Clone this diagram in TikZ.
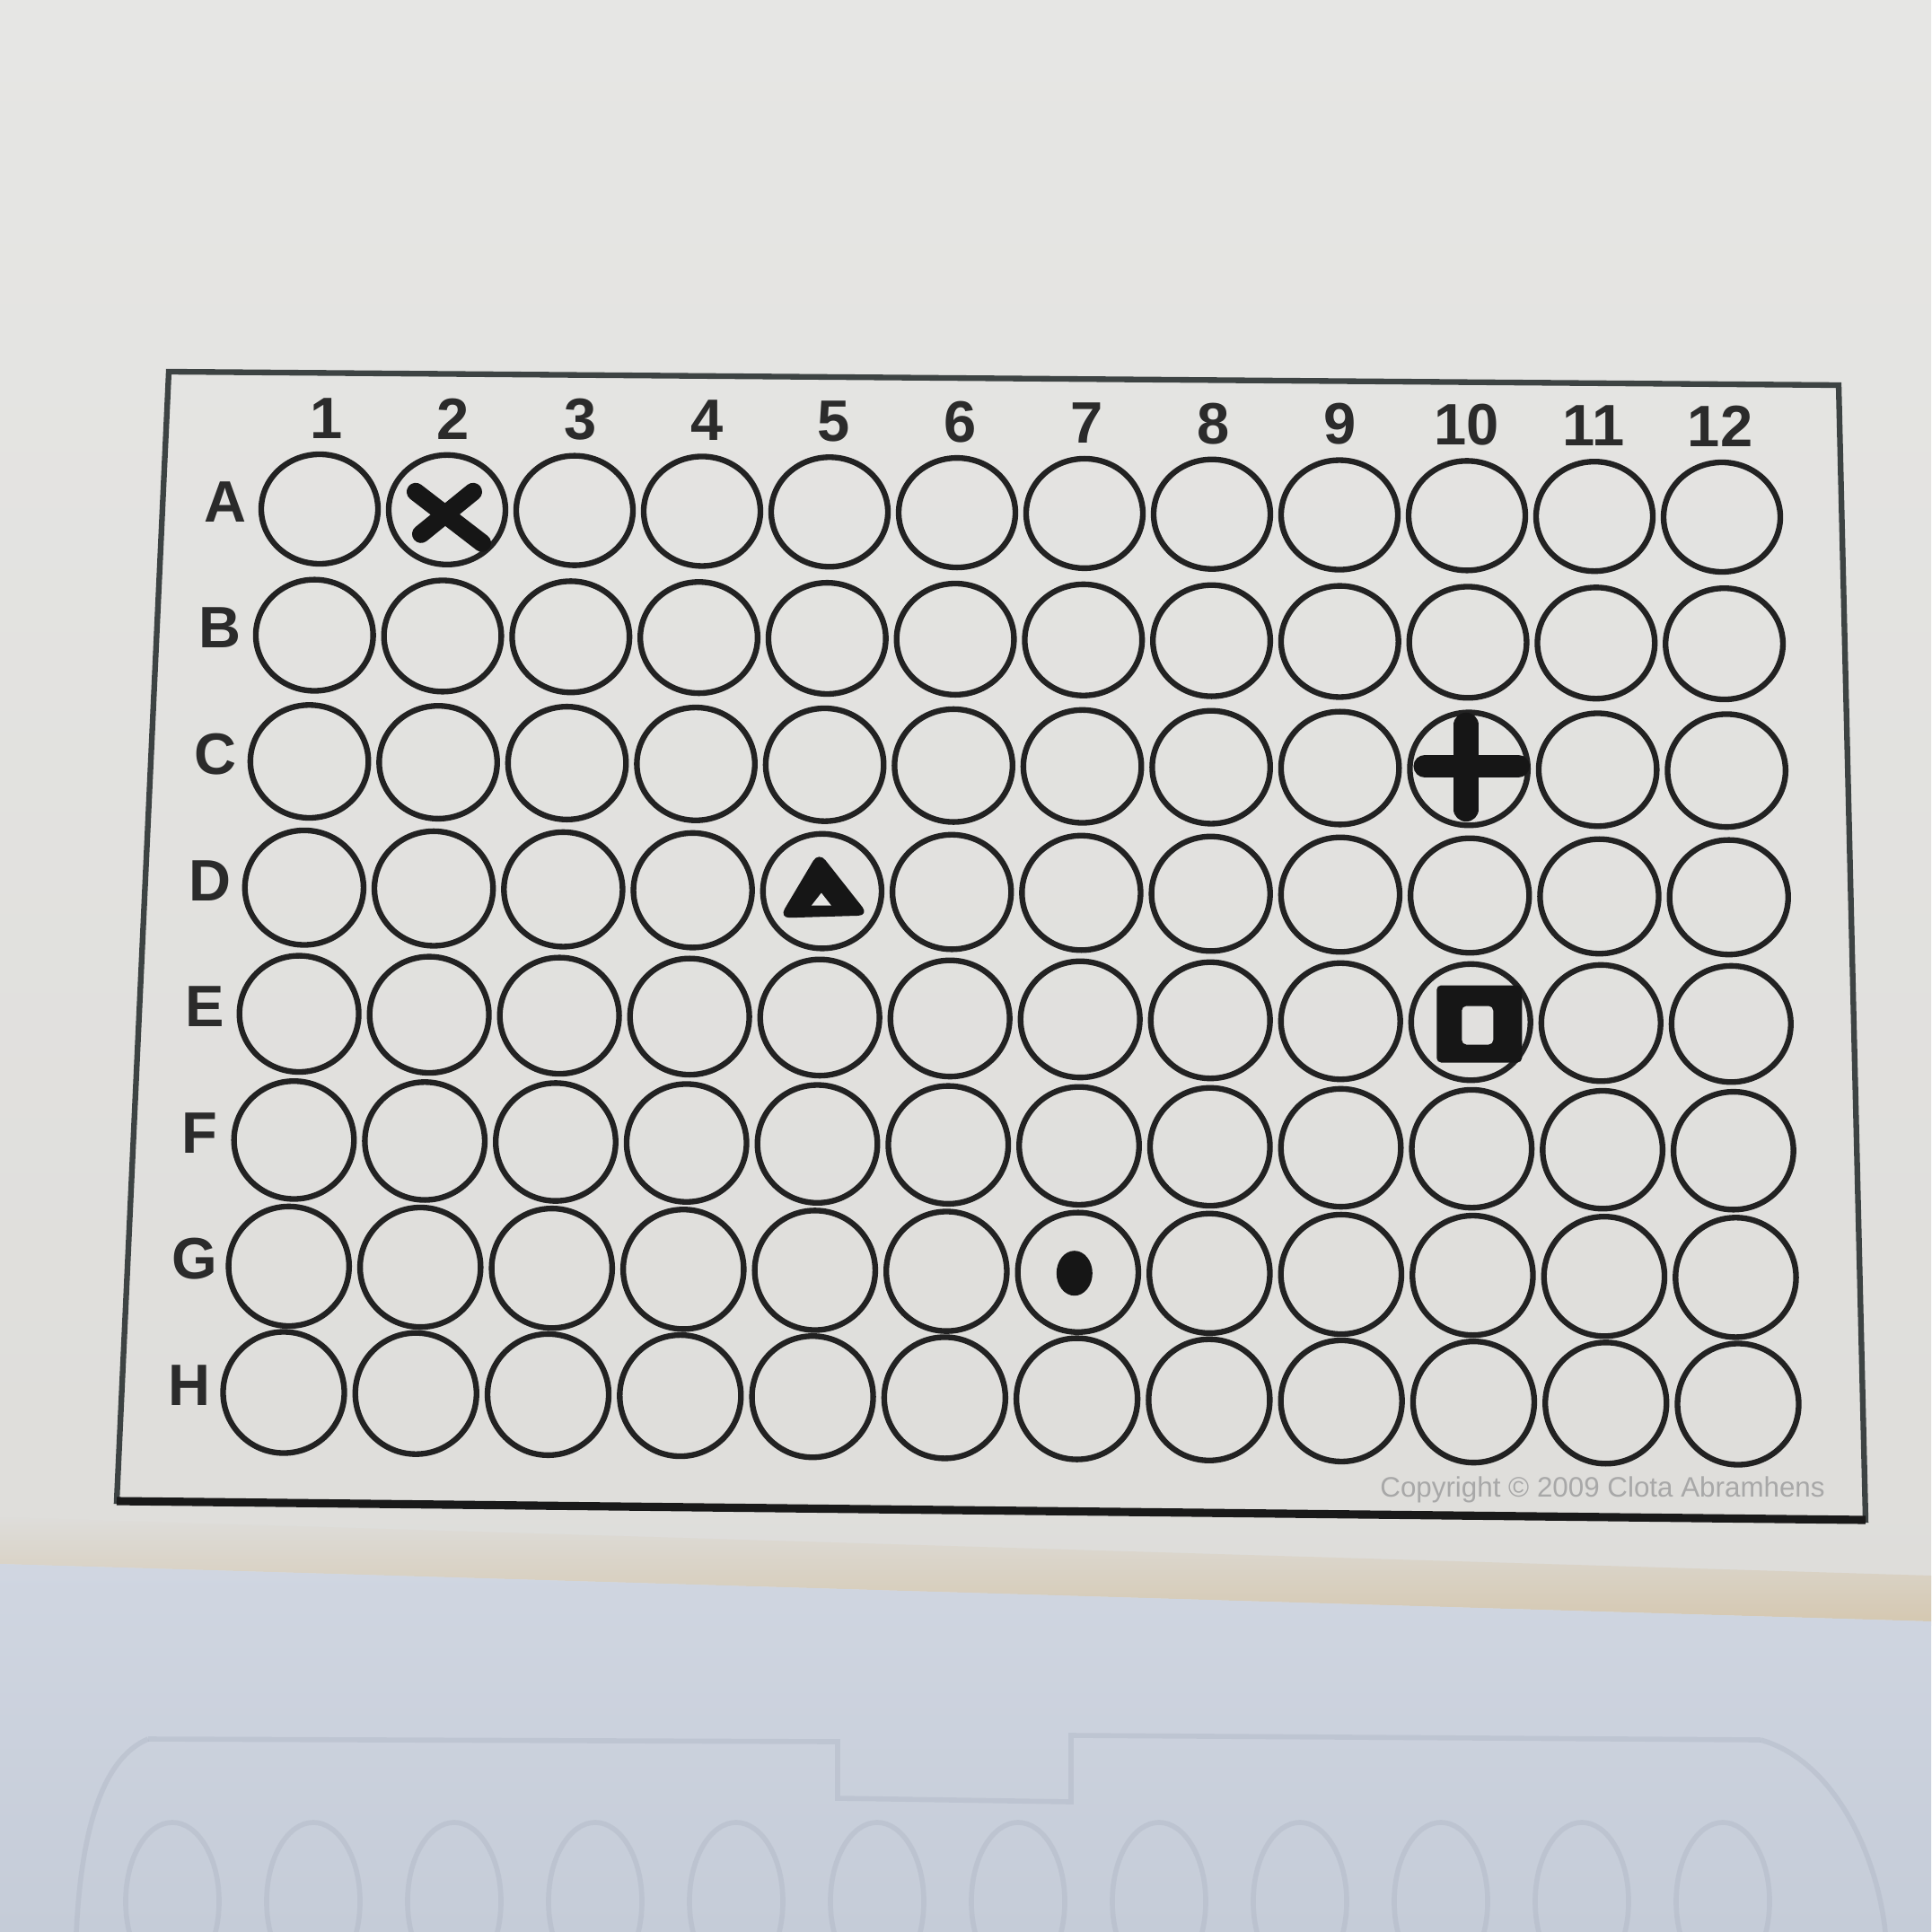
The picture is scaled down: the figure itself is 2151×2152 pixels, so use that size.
\documentclass[tikz,border=0pt]{standalone}
\usepackage{fontspec}
\usepackage{graphicx}
\setmainfont{Liberation Sans}
\usetikzlibrary{shapes.geometric}
\definecolor{paperA}{HTML}{E6E6E4}
\definecolor{paperB}{HTML}{DEDDDA}
\definecolor{tanc}{HTML}{D5C8B1}
\definecolor{blueA}{HTML}{D0D6E1}
\definecolor{blueB}{HTML}{C5CCD8}
\definecolor{ghostc}{HTML}{B3BAC8}
\definecolor{wellc}{HTML}{222222}
\definecolor{framec}{HTML}{3D4343}
\definecolor{labc}{HTML}{2B2B2B}
\definecolor{markc}{HTML}{161616}
\definecolor{copyc}{HTML}{A8A8A8}
\begin{document}
\begin{tikzpicture}[x=0.01cm, y=-0.01cm,
  well/.style={ellipse, draw=wellc, line width=1.8pt, inner sep=0pt, outer sep=0pt},
  lab/.style={font=\fontsize{18.5}{20}\selectfont\bfseries, text=labc, inner sep=0pt},
  pen/.style={draw=markc, line cap=round, line join=round},
  ghost/.style={draw=ghostc, line width=1.6pt, opacity=0.5},
  framestyle/.style={draw=framec, line width=1.8pt, line join=miter}]
\useasboundingbox (0,0) rectangle (2151,2152);
% background: paper, tan edge shadow, blue surface below
\shade[top color=paperA, bottom color=paperB] (0,0) rectangle (2151,1810);
\shade[top color=paperB, bottom color=tanc] (0,1690) -- (2151,1755) -- (2151,1806) -- (0,1742) -- cycle;
\shade[top color=blueA, bottom color=blueB] (0,1742) -- (2151,1806) -- (2151,2152) -- (0,2152) -- cycle;
% faint plate visible through the sheet below
\draw[ghost] (165,1937) -- (933,1940) -- (933,2003) -- (1193,2007) -- (1193,1933) -- (1961,1938);
\draw[ghost] (165,1937) .. controls (110,1960) and (90,2050) .. (85,2152);
\draw[ghost] (1961,1938) .. controls (2040,1960) and (2090,2060) .. (2100,2152);
\foreach \k in {0,...,11}{
  \draw[ghost] (192+157*\k,2118) ellipse [x radius=0.52cm, y radius=0.88cm];
}
% frame
\coordinate (ftl) at (188,414);
\coordinate (ftr) at (2048,429);
\coordinate (fbr) at (2078,1693);
\coordinate (fbl) at (130,1672);
\draw[framestyle] (ftl) -- (ftr) -- (fbr) -- (fbl) -- cycle;
\draw[draw=black!90, line width=2.6pt] (fbl) -- (fbr);
% wells and labels
\foreach \j [count=\jj from 0] in {A,B,C,D,E,F,G,H}{
  \foreach \i in {1,...,12}{
    \pgfmathsetmacro\u{(\i-1)/11}
    \pgfmathsetmacro\v{\jj/7}
    \pgfmathsetmacro\px{(1-\v)*(356+1562*\u)+\v*(316+1620*\u)}
    \pgfmathsetmacro\py{(1-\v)*(567+9*\u)+\v*(1551+13*\u)}
    \pgfmathsetmacro\rw{130+5*\v}
    \pgfmathsetmacro\rh{122+13*\v}
    \node[well, minimum width=\rw*0.01cm, minimum height=\rh*0.01cm] (w-\j-\i) at (\px,\py) {};
  }
}
\foreach \i in {1,...,12}{
  \pgfmathsetmacro\u{(\i-1)/11}
  \node[lab] (col-\i) at ([shift={(8-10*\u,-101)}]w-A-\i.center) {\i};
}
\foreach \j in {A,B,C,D,E,F,G,H}{
  \node[lab] (row-\j) at ([shift={(-105,-8)}]w-\j-1.center) {\j};
}
% hand-drawn marks
\draw[pen, line width=5.7pt] ([shift={(-35,-20)}]w-A-2.center) -- ([shift={(39,37)}]w-A-2.center);
\draw[pen, line width=5.7pt] ([shift={(29,-20)}]w-A-2.center) -- ([shift={(-29,27)}]w-A-2.center);
\draw[pen, line width=7.8pt] ([shift={(-3,-49)}]w-C-10.center) -- ([shift={(-3,45)}]w-C-10.center);
\draw[pen, line width=7.2pt] ([shift={(-49,-3)}]w-C-10.center) -- ([shift={(55,-3)}]w-C-10.center);
\fill[markc, rounded corners=0.12cm] ([shift={(-4,-44)}]w-D-5.center) -- ([shift={(-48,30)}]w-D-5.center) -- ([shift={(52,27)}]w-D-5.center) -- cycle;
\fill[paperA] ([shift={(-1,2)}]w-D-5.center) -- ([shift={(-12,16)}]w-D-5.center) -- ([shift={(10,16)}]w-D-5.center) -- cycle;
\fill[markc, even odd rule, rounded corners=0.05cm] ([shift={(-38,-41)}]w-E-10.center) rectangle ([shift={(57,45)}]w-E-10.center)
  ([shift={(-10,-18)}]w-E-10.center) rectangle ([shift={(25,25)}]w-E-10.center);
\fill[markc] ([shift={(-4,1)}]w-G-7.center) ellipse [x radius=0.2cm, y radius=0.25cm];
% copyright line
\node[text=copyc, inner sep=0pt] (copy) at (1785,1659) {\resizebox{4.95cm}{!}{Copyright \textcopyright\ 2009 Clota Abramhens}};
\end{tikzpicture}
\end{document}
